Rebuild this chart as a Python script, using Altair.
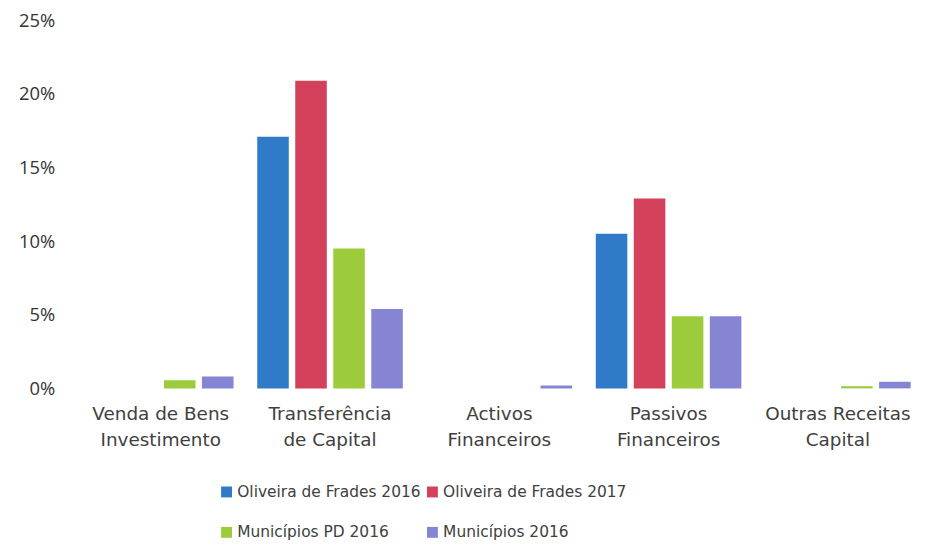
import altair as alt
import pandas as pd

categories = ["Venda de Bens|Investimento", "Transferência|de Capital", "Activos|Financeiros",
              "Passivos|Financeiros", "Outras Receitas|Capital"]
series = ["Oliveira de Frades 2016", "Oliveira de Frades 2017", "Municípios PD 2016", "Municípios 2016"]
of2016 = [0.0, 17.1, 0.0, 10.5, 0.0]
of2017 = [0.0, 20.9, 0.0, 12.9, 0.0]
mpd2016 = [0.55, 9.5, 0.0, 4.9, 0.15]
m2016 = [0.8, 5.4, 0.2, 4.9, 0.45]
colors = ["#2F7BC8", "#D3425A", "#9CCB3C", "#8585D3"]

rows = []
for s, vals in zip(series, [of2016, of2017, mpd2016, m2016]):
    for c, v in zip(categories, vals):
        rows.append({"cat": c, "serie": s, "val": v / 100})
df = pd.DataFrame(rows)

font = "DejaVu Sans"
chart = alt.Chart(df).mark_bar().encode(
    x=alt.X("cat:N", sort=categories, title=None,
            scale=alt.Scale(paddingInner=0.14, paddingOuter=0.02),
            axis=alt.Axis(labelAngle=0, domain=False, ticks=False, labelFontSize=18.5,
                          labelFont=font, labelColor="#404040", labelPadding=16,
                          labelExpr="split(datum.label, '|')", labelLineHeight=26)),
    xOffset=alt.XOffset("serie:N", sort=series, scale=alt.Scale(paddingInner=0.17)),
    y=alt.Y("val:Q", title=None, scale=alt.Scale(domain=[0, 0.25]),
            axis=alt.Axis(format=".0%", values=[0, 0.05, 0.1, 0.15, 0.2, 0.25], grid=False,
                          domain=False, ticks=False, labelFontSize=18.5, labelFont="Open Sans",
                          labelColor="#333333", labelPadding=30)),
    color=alt.Color("serie:N", sort=series, scale=alt.Scale(domain=series, range=colors),
                    legend=alt.Legend(title=None, orient="none", legendX=135, legendY=466,
                                      direction="horizontal",
                                      columns=2, symbolType="square", labelLimit=400,
                                      symbolSize=120, labelFontSize=15.5, labelFont=font,
                                      labelColor="#404040", rowPadding=24, columnPadding=4,
                                      symbolStrokeWidth=0, labelOffset=3)),
).properties(width=834, height=370, padding={"left": 10, "top": 2, "right": 5, "bottom": 5}
).configure_view(stroke=None)

chart.save("out.html", embed_options={"renderer": "svg", "actions": False})
